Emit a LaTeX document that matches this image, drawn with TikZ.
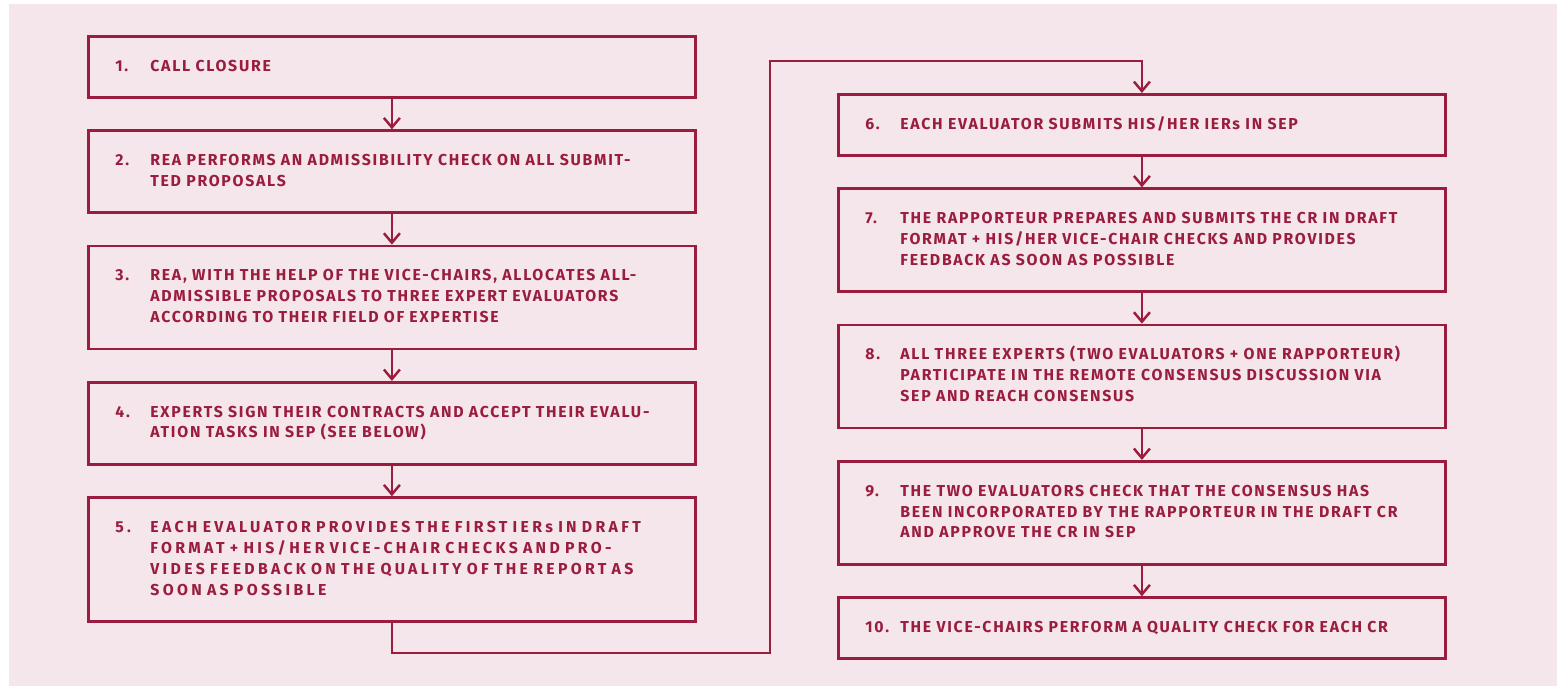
\documentclass[tikz,border=0pt]{standalone}
\usepackage{fontspec}
\usepackage{tikz}
\usetikzlibrary{positioning,arrows.meta}
\newfontfamily\stepfont[LetterSpace=11]{Fira Sans}
\newfontfamily\widefont[LetterSpace=21,WordSpace=3]{Fira Sans}
\definecolor{evalred}{RGB}{154,28,62}
\definecolor{panelpink}{RGB}{244,230,234}
\newcommand{\stepitem}[2]{\makebox[0.7cm][l]{#1}\begin{tabular}[t]{@{}l@{}}#2\end{tabular}}

\begin{document}
\begin{tikzpicture}[node distance=0.61cm,
		flow/.style={-{Straight Barb[length=1.9mm,width=3.2mm]}, draw=evalred, line width=1.4pt},
		stepbox/.style={rectangle, draw=evalred, line width=1.6pt, text=evalred,
			text width=11.06cm, inner xsep=0.54cm, inner ysep=0pt, align=left,
			font=\stepfont\bfseries\fontsize{9}{11.9}\selectfont},
		nlines/.style={minimum height=0.8cm+#1*0.42cm}]
	\useasboundingbox (0,0) rectangle (31.14,-13.72);
	\fill[white] (0,0) rectangle (31.14,-13.72);
	\fill[panelpink] (0.18,-0.08) rectangle (31.14,-13.72);
	\node[stepbox, nlines=1, anchor=north west] (s1) at (1.74,-0.70) {\stepitem{1.}{CALL CLOSURE}};
	\node[stepbox, nlines=2] (s2) [below = of s1] {\stepitem{2.}{REA PERFORMS AN ADMISSIBILITY CHECK ON ALL SUBMIT-\\TED PROPOSALS}};
	\node[stepbox, nlines=3] (s3) [below = of s2] {\stepitem{3.}{REA, WITH THE HELP OF THE VICE-CHAIRS, ALLOCATES ALL-\\ADMISSIBLE PROPOSALS TO THREE EXPERT EVALUATORS\\ACCORDING TO THEIR FIELD OF EXPERTISE}};
	\node[stepbox, nlines=2] (s4) [below = of s3] {\stepitem{4.}{EXPERTS SIGN THEIR CONTRACTS AND ACCEPT THEIR EVALU-\\ATION TASKS IN SEP (SEE BELOW)}};
	\node[stepbox, nlines=4, font=\widefont\bfseries\fontsize{9}{11.9}\selectfont] (s5) [below = of s4] {\stepitem{5.}{EACH EVALUATOR PROVIDES THE FIRST IERs IN DRAFT\\FORMAT + HIS/HER VICE-CHAIR CHECKS AND PRO-\\VIDES FEEDBACK ON THE QUALITY OF THE REPORT AS\\SOON AS POSSIBLE}};
	\node[stepbox, nlines=1, anchor=north west] (s6) at (16.74,-1.86) {\stepitem{6.}{EACH EVALUATOR SUBMITS HIS/HER IERs IN SEP}};
	\node[stepbox, nlines=3] (s7) [below = of s6] {\stepitem{7.}{THE RAPPORTEUR PREPARES AND SUBMITS THE CR IN DRAFT\\FORMAT + HIS/HER VICE-CHAIR CHECKS AND PROVIDES\\FEEDBACK AS SOON AS POSSIBLE}};
	\node[stepbox, nlines=3] (s8) [below = of s7] {\stepitem{8.}{ALL THREE EXPERTS (TWO EVALUATORS + ONE RAPPORTEUR)\\PARTICIPATE IN THE REMOTE CONSENSUS DISCUSSION VIA\\SEP AND REACH CONSENSUS}};
	\node[stepbox, nlines=3] (s9) [below = of s8] {\stepitem{9.}{THE TWO EVALUATORS CHECK THAT THE CONSENSUS HAS\\BEEN INCORPORATED BY THE RAPPORTEUR IN THE DRAFT CR\\AND APPROVE THE CR IN SEP}};
	\node[stepbox, nlines=1] (s10) [below = of s9] {\stepitem{10.}{THE VICE-CHAIRS PERFORM A QUALITY CHECK FOR EACH CR}};
	\coordinate (low) at (15.40,-13.06);
	\coordinate (high) at (15.40,-1.22);
	\draw[flow] (s1) -- (s2);
	\draw[flow] (s2) -- (s3);
	\draw[flow] (s3) -- (s4);
	\draw[flow] (s4) -- (s5);
	\draw[flow] (s5.south) |- (low) -- (high) -| (s6.north);
	\draw[flow] (s6) -- (s7);
	\draw[flow] (s7) -- (s8);
	\draw[flow] (s8) -- (s9);
	\draw[flow] (s9) -- (s10);
\end{tikzpicture}
\end{document}
